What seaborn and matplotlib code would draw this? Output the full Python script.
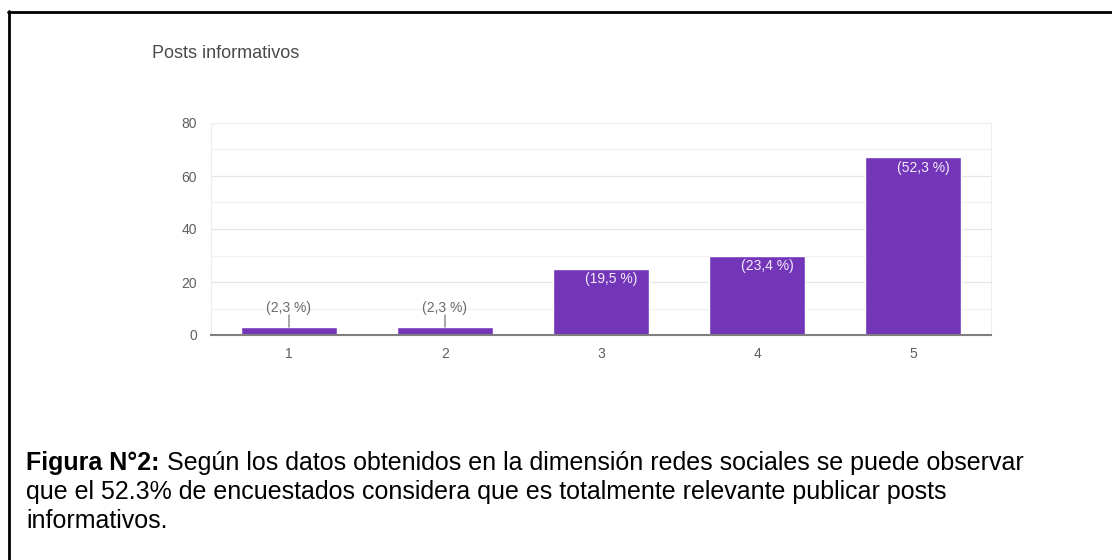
import matplotlib
matplotlib.use("Agg")
import matplotlib.pyplot as plt
from matplotlib.lines import Line2D
import seaborn as sns
import pandas as pd

# Survey responses per rating (1-5)
categories = ["1", "2", "3", "4", "5"]
counts = [3, 3, 25, 30, 67]
pct_labels = ["(2,3 %)", "(2,3 %)", "(19,5 %)", "(23,4 %)", "(52,3 %)"]
y_ticks = [0, 20, 40, 60, 80]

title = "Posts informativos"
caption_bold = "Figura N°2:"
caption_rest = (" Según los datos obtenidos en la dimensión redes sociales se puede observar\n"
                "que el 52.3% de encuestados considera que es totalmente relevante publicar posts\n"
                "informativos.")

sns.set_theme(style="white")
plt.rcParams["font.family"] = ["Liberation Sans", "DejaVu Sans"]

df = pd.DataFrame({"valor": categories, "n": counts})

W, H = 1112, 560
fig = plt.figure(figsize=(W / 100, H / 100), dpi=100)
ax = fig.add_axes([211 / W, 1 - 335 / H, 780 / W, 212 / H])

bar_color = "#7436b9"
sns.barplot(data=df, x="valor", y="n", color=bar_color, width=0.62,
            saturation=1, ax=ax, zorder=3)

ax.set_ylim(0, 80)
ax.set_xlim(-0.5, 4.5)
ax.set_yticks(y_ticks)
ax.set_yticks([10, 30, 50, 70], minor=True)
ax.grid(axis="y", which="major", color="#e6e6e6", lw=0.9, zorder=0)
ax.grid(axis="y", which="minor", color="#f1f1f1", lw=0.9, zorder=0)
ax.set_xlabel("")
ax.set_ylabel("")
for s in ["top", "right", "left"]:
    ax.spines[s].set_color("#eeeeee")
    ax.spines[s].set_linewidth(0.8)
ax.spines["bottom"].set_color("#7f7f7f")
ax.spines["bottom"].set_linewidth(1.5)
ax.spines["bottom"].set_zorder(4)
ax.tick_params(axis="both", length=0, labelsize=10, labelcolor="#5f5f5f")
ax.tick_params(axis="y", pad=10)
ax.tick_params(axis="x", pad=9)

# Value labels: inside the tall bars, above with a leader line for the short ones
for i, (v, lab) in enumerate(zip(counts, pct_labels)):
    if v < 10:
        ax.plot([i, i], [v, 7.6], color="#9a9a9a", lw=1.2, zorder=4)
        ax.text(i, 7.6, lab, ha="center", va="bottom", fontsize=10,
                color="#6a6a6a", zorder=5)
    else:
        ax.text(i + 0.066, v - 3.8, lab, ha="center", va="center", fontsize=10,
                color="#f2ecfa", zorder=5)

fig.text(152 / W, 1 - 53 / H, title, fontsize=13, color="#4a4a4a",
         ha="left", va="center")

# Frame lines around the figure block
fig.add_artist(Line2D([8 / W, 1.0], [1 - 11.5 / H, 1 - 11.5 / H],
                      color="black", lw=2, transform=fig.transFigure))
fig.add_artist(Line2D([8.5 / W, 8.5 / W], [0, 1 - 11 / H],
                      color="black", lw=2, transform=fig.transFigure))

# Caption with a bold lead-in
cap_x = 26 / W
cap_base = 470
step = 29
fs = 18
t1 = fig.text(cap_x, 1 - cap_base / H, caption_bold, fontsize=fs, fontweight="bold",
              color="black", ha="left", va="baseline")
fig.canvas.draw()
bb = t1.get_window_extent(renderer=fig.canvas.get_renderer())
x_after = bb.x1 / fig.bbox.width
lines = caption_rest.split("\n")
fig.text(x_after, 1 - cap_base / H, lines[0], fontsize=fs, color="black",
         ha="left", va="baseline")
for k, ln in enumerate(lines[1:], start=1):
    fig.text(cap_x, 1 - (cap_base + k * step) / H, ln, fontsize=fs, color="black",
             ha="left", va="baseline")

fig.savefig("out.png", dpi=100)
